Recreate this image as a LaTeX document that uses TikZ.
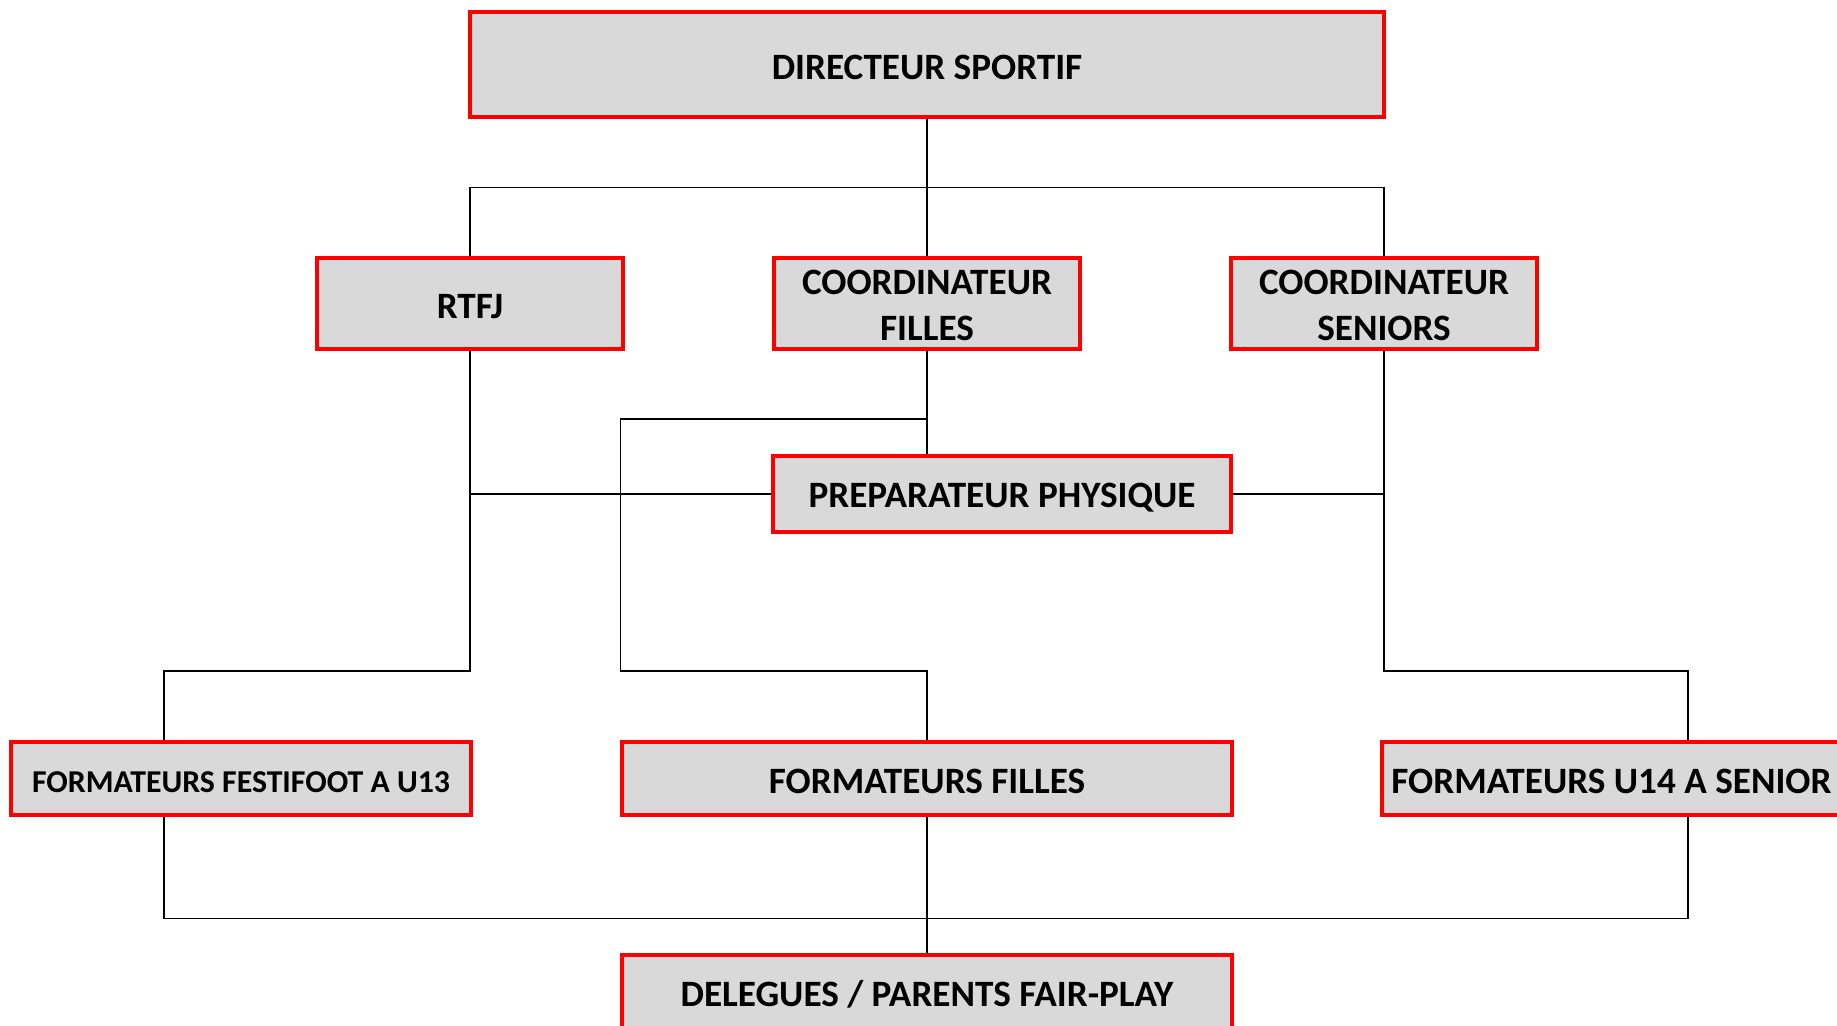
\documentclass[tikz,border=0pt]{standalone}
\usepackage{fontspec}
\setmainfont{Carlito}
\newcommand\lowone[1]{\raisebox{-1.6pt}[\height][\depth]{#1}}
\newcommand\lowtwo[2]{\raisebox{-2.3pt}[\height][\depth]{\begin{tabular}{@{}c@{}}#1\\#2\end{tabular}}}
\begin{document}
\begin{tikzpicture}[x=0.5pt,y=-0.5pt,
  box/.style={draw=red, line width=1.8pt, fill={rgb,255:red,217;green,217;blue,217}, inner sep=0pt, align=center, font=\fontsize{18.6}{22.8}\selectfont\bfseries},
  txt/.style={inner sep=0pt, font=\fontsize{18.6}{22.8}\selectfont\bfseries},
  wire/.style={draw=black, line width=0.6pt}]
\useasboundingbox (0,0) rectangle (1837,1025);
\clip (0,0) rectangle (1837,1025);
% coordinates for junction levels
\coordinate (top) at (0,187.5);
\coordinate (mid) at (0,419);
\coordinate (bar) at (0,671);
\coordinate (bot) at (0,918.5);
\coordinate (fx) at (164,0);
% boxes
\node[box, minimum width=457pt, minimum height=52.5pt] (dir) at (927,64.5) {\lowone{DIRECTEUR SPORTIF}};
\node[box, minimum width=153pt, minimum height=45.5pt] (rtfj) at (470,303.5) {\lowone{RTFJ}};
\node[box, minimum width=153pt, minimum height=45.5pt] (cf) at (927,303.5) {\lowtwo{COORDINATEUR}{FILLES}};
\node[box, minimum width=153pt, minimum height=45.5pt] (cs) at (1384,303.5) {\lowtwo{COORDINATEUR}{SENIORS}};
\node[box, minimum width=229pt, minimum height=38pt] (prep) at (1002,494) {\lowone{PREPARATEUR PHYSIQUE}};
\node[box, minimum width=230pt, minimum height=36.5pt, font=\fontsize{15.9}{19}\selectfont\bfseries] (fest) at (241,778.5) {\lowone{FORMATEURS FESTIFOOT A U13}};
\node[box, minimum width=305pt, minimum height=36.5pt] (ff) at (927,778.5) {\lowone{FORMATEURS FILLES}};
\node[box, minimum width=306pt, minimum height=36.5pt] (u14) at (1688,778.5) {};
\node[txt, anchor=west] (u14t) at (1391,781) {FORMATEURS U14 A SENIOR};
\node[box, minimum width=305pt, minimum height=36.5pt] (del) at (927,991.5) {\lowone{DELEGUES / PARENTS FAIR-PLAY}};
% wires
\draw[wire] (dir.south) -- (cf.north);
\draw[wire] (rtfj.north) |- (dir.south |- top) -| (cs.north);
\draw[wire] (rtfj.south) -- (rtfj.south |- bar) -| (fest.north -| fx);
\draw[wire] (prep.west) -- (prep.west -| rtfj.south);
\draw[wire] (prep.east) -- (prep.east -| cs.south);
\draw[wire] (cf.south) -- (cf.south |- prep.north);
\draw[wire] (cf.south |- mid) -| (ff.west |- bar) -| (ff.north);
\draw[wire] (cs.south) |- (u14.north |- bar) -- (u14.north);
\draw[wire] (fest.south -| fx) |- (u14.south |- bot) -- (u14.south);
\draw[wire] (ff.south) -- (del.north);
\end{tikzpicture}
\end{document}
